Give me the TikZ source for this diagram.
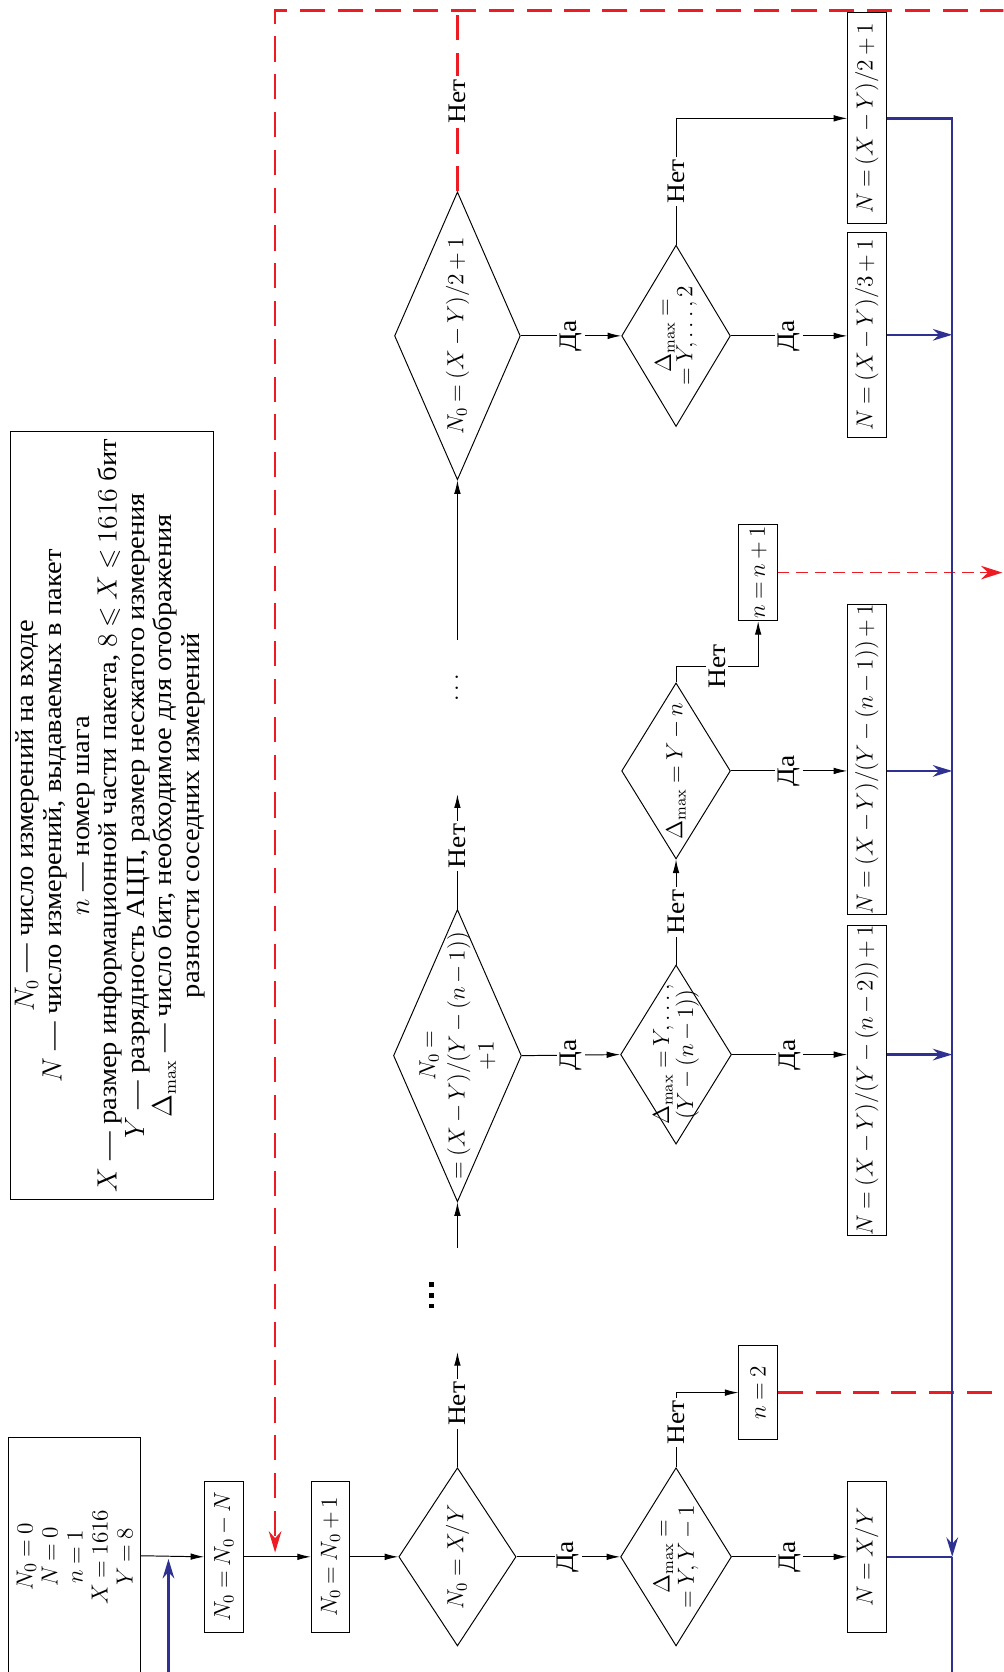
\documentclass[tikz,border=0pt]{standalone}
\usepackage{amssymb}
\usepackage[no-math]{fontspec}
\setmainfont{Liberation Serif}[FakeStretch=1.09]
\usetikzlibrary{shapes.geometric,arrows.meta}
\definecolor{fcblue}{RGB}{46,49,146}
\definecolor{fcred}{RGB}{237,28,36}
\thickmuskip=4mu plus 2mu
\medmuskip=3mu plus 1mu
\begin{document}
\begin{tikzpicture}[x=0.55pt,y=0.55pt,
  every node/.style={font=\fontsize{12}{13}\selectfont},
  box/.style={draw, line width=0.5pt, inner sep=0pt, minimum height=19.8pt},
  dia/.style={draw, diamond, line width=0.5pt, inner sep=0pt},
  txt/.style={align=center, inner sep=0pt},
  lbl/.style={fill=white, inner sep=1.5pt, font=\fontsize{13}{14}\selectfont},
  flow/.style={line width=0.5pt, -{Latex[length=7pt,width=3.4pt]}},
  bluel/.style={fcblue, line width=1.3pt},
  bluea/.style={bluel, -{Stealth[length=10pt,width=6pt]}},
  redl/.style={fcred, line width=1.4pt, dash pattern=on 13pt off 6.5pt},
  redthin/.style={fcred, line width=0.6pt, dash pattern=on 6pt off 3.5pt},
]
\useasboundingbox (-941,0) rectangle (0,1568);
\begin{scope}[rotate=90, transform shape]
\clip (0,0) rectangle (1568,941);

% legend
\node[box, minimum width=396pt, minimum height=104.5pt] (leg) at (803,836) {};
\node[txt, font=\fontsize{13.5}{14.2}\selectfont] (legt) at (803,838) {$N_0$ — число измерений на входе\\
$N$ — число измерений, выдаваемых в пакет\\
$n$ — номер шага\\
$X$ — размер информационной части пакета, $8\leqslant X\leqslant 1616$ бит\\
$Y$ — разрядность АЦП, размер несжатого измерения\\
$\Delta_{\max}$ — число бит, необходимое для отображения\\
разности соседних измерений};

% column 1
\node[box, minimum width=122pt, minimum height=68.2pt] (init) at (109,871) {};
\node[txt, font=\fontsize{12.5}{12.9}\selectfont] (initt) at (108,871) {$N_0=0$\\$N=0$\\$n=1$\\$X=1616$\\$Y=8$};
\node[box, minimum width=78pt] (a) at (108,731) {$N_0 = N_0 - N$};
\node[box, minimum width=78pt] (b) at (108,631) {$N_0 = N_0 + 1$};
\node[dia, minimum width=91.9pt, minimum height=60.5pt] (d1) at (108,512) {};
\node[txt] (d1t) at (108,512) {$N_0 = X/Y$};
\node[dia, minimum width=91.9pt, minimum height=57.2pt] (d2) at (108,307) {};
\node[txt, font=\fontsize{12}{12.5}\selectfont] (d2t) at (108,307) {$\Delta_{\max} =$\\$= Y, Y-1$};
\node[box, minimum width=78pt] (r1) at (108,128) {$N = X/Y$};
\node[box, minimum width=48.4pt] (n2) at (262,230) {$n = 2$};

% column 2
\node[dia, minimum width=150.7pt, minimum height=66pt] (d3) at (578,512) {};
\node[txt, font=\fontsize{12}{15}\selectfont] (d3t) at (578,512) {$N_0 =$\\$=(X-Y)/(Y-(n-1))$\\$+1$};
\node[dia, minimum width=92.4pt, minimum height=57.2pt] (d4) at (579,307) {};
\node[txt, font=\fontsize{12}{10}\selectfont] (d4t) at (579,307) {$\Delta_{\max} = Y, \ldots,$\\$(Y-(n-1))$};
\node[box, minimum width=158pt] (r2) at (555,128) {$N = (X-Y)/(Y-(n-2))+1$};
\node[dia, minimum width=90.8pt, minimum height=56.1pt] (d4b) at (845,307) {};
\node[txt] (d4bt) at (845,307) {$\Delta_{\max} = Y - n$};
\node[box, minimum width=159.5pt] (r3) at (856,128) {$N = (X-Y)/(Y-(n-1))+1$};
\node[box, minimum width=49.5pt] (n21) at (1031,230) {$n = n+1$};

% column 3
\node[dia, minimum width=148.5pt, minimum height=64.9pt] (d5) at (1253,512) {};
\node[txt] (d5t) at (1253,512) {$N_0 = (X-Y)/2+1$};
\node[dia, minimum width=93.5pt, minimum height=56.1pt] (d6) at (1253,307) {};
\node[txt, font=\fontsize{12}{11}\selectfont] (d6t) at (1253,307) {$\Delta_{\max} =$\\$= Y, \ldots, 2$};
\node[box, minimum width=105.6pt] (r4) at (1254,128) {$N = (X-Y)/3+1$};
\node[box, minimum width=108.9pt] (r5) at (1457,128) {$N = (X-Y)/2+1$};

% coordinates
\coordinate (d1up) at (300,512);
\coordinate (d3in) at (398,512);
\coordinate (d3up) at (823,512);
\coordinate (d5in) at (968,512);
\coordinate (c1) at (943,307);
\coordinate (n2e) at (262,-2);
\coordinate (n21e) at (1031,1);
\coordinate (redA) at (1558,-2);
\coordinate (redB) at (1558,683);
\coordinate (redtip) at (112,683);
\coordinate (bj) at (108,48);
\coordinate (bend) at (-5,48);
\coordinate (bs) at (-5,783);
\coordinate (bt) at (106,783);

% column 1 connectors
\draw[flow] (init.south) -- (a.north);
\draw[flow] (a.south) -- (b.north);
\draw[flow] (b.south) -- (d1.north);
\draw[flow] (d1.south) -- node[lbl]{Да} (d2.north);
\draw[flow] (d2.south) -- node[lbl]{Да} (r1.north);
\draw[flow] (d2.east) -- node[lbl, pos=0.6]{Нет} (d2.east -| n2.north) -- (n2.north);
\draw[flow] (d1.east) -- node[lbl, pos=0.55]{Нет} (d1up);
\fill (341,534) rectangle (345.5,538.5);
\fill (351,534) rectangle (355.5,538.5);
\fill (361,534) rectangle (365.5,538.5);

% column 2 connectors
\draw[flow] (d3in) -- (d3.west);
\draw[flow] (d3.south) -- node[lbl]{Да} (d4.north);
\draw[flow] (d4.south) -- node[lbl]{Да} (d4.south |- r2.north);
\draw[flow] (d4.east) -- node[lbl]{Нет} (d4b.west);
\draw[flow] (d4b.south) -- node[lbl]{Да} (d4b.south |- r3.north);
\draw[flow] (d4b.east) -- (c1) -- node[lbl]{Нет} (c1 |- n21.west) -- (n21.west);
\draw[flow] (d3.east) -- node[lbl, pos=0.55]{Нет} (d3up);
\node (dots) at (923,512) {$\cdots$};

% column 3 connectors
\draw[flow] (d5in) -- (d5.west);
\draw[flow] (d5.south) -- node[lbl]{Да} (d6.north);
\draw[flow] (d6.south) -- node[lbl]{Да} (d6.south |- r4.north);
\draw[flow] (d6.east) -- node[lbl, pos=0.5]{Нет} (d6.east -| r5.north) -- (r5.north);

% red dashed
\draw[redl, -{Stealth[length=11pt,width=6.5pt]}] (redA) -- (redB) -- (redtip);
\draw[redl] (d5.east) -- node[lbl, text=black]{Нет} (d5.east -| redB);
\draw[redl] (n2.south) -- (n2e);
\draw[redthin, -{Stealth[length=11pt,width=7pt]}] (n21.south) -- (n21e);

% blue
\draw[bluea] (bs) -- (bt);
\draw[bluea] (r5.south) -- (r5.south |- bj) -- (bj);
\draw[bluel] (r1.south) -- (bj);
\draw[bluel] (bj) -- (bend);
\draw[bluea] (r4.south) -- (r4.south |- bj);
\draw[bluea] (d4b.south |- r3.south) -- (d4b.south |- bj);
\draw[bluea] (d4.south |- r2.south) -- (d4.south |- bj);
\end{scope}
\end{tikzpicture}
\end{document}
